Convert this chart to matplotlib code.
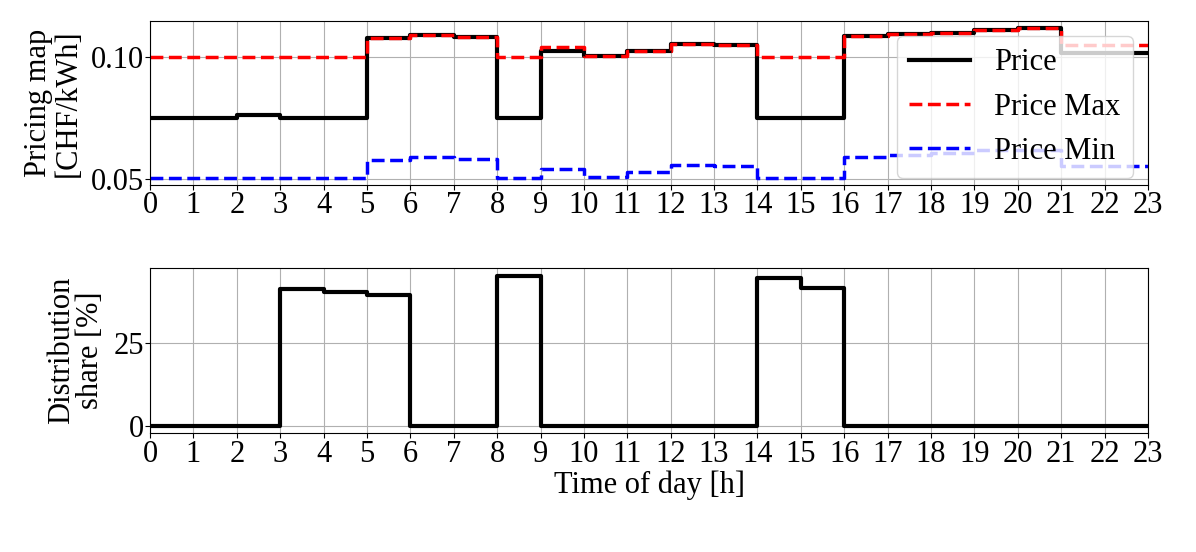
import numpy as np
import matplotlib
matplotlib.use('Agg')
import matplotlib.pyplot as plt

plt.rcParams['font.family'] = ['Liberation Serif', 'DejaVu Serif']
plt.rcParams['font.size'] = 22

# hours of the day
hours = list(range(24))

# pricing map [CHF/kWh], one value per hour (last one repeats for the step end)
price = [0.075, 0.075, 0.076, 0.075, 0.075, 0.1079, 0.109, 0.108, 0.075, 0.1025,
         0.1004, 0.1025, 0.1055, 0.105, 0.075, 0.075, 0.1086, 0.1093, 0.110, 0.111,
         0.1117, 0.1015, 0.1015, 0.1015]
price_max = [0.100, 0.100, 0.100, 0.100, 0.100, 0.1079, 0.109, 0.108, 0.100, 0.104,
             0.1005, 0.1025, 0.1055, 0.105, 0.100, 0.100, 0.1086, 0.1093, 0.110, 0.111,
             0.1117, 0.1048, 0.1048, 0.1048]
price_min = [0.0505, 0.0505, 0.0505, 0.0505, 0.0505, 0.0578, 0.0589, 0.0582, 0.0505, 0.054,
             0.0509, 0.0527, 0.0557, 0.0554, 0.0505, 0.0505, 0.0589, 0.0596, 0.0605, 0.0616,
             0.0619, 0.0551, 0.0551, 0.0551]

# distribution share [%]
share = [0, 0, 0, 41.0, 40.3, 39.3, 0, 0, 45.2, 0,
         0, 0, 0, 0, 44.6, 41.3, 0, 0, 0, 0,
         0, 0, 0, 0]


def main():
    fig = plt.figure(figsize=(11.96, 5.52), dpi=100)
    ax1 = fig.add_axes([0.1254, 0.6649, 0.8345, 0.2971])
    ax2 = fig.add_axes([0.1254, 0.2147, 0.8345, 0.2998])

    ax1.step(hours, price, where='post', color='k', lw=3, label='Price')
    ax1.step(hours, price_max, where='post', color='r', ls='--', lw=2.5, label='Price Max')
    ax1.step(hours, price_min, where='post', color='b', ls='--', lw=2.5, label='Price Min')
    ax1.set_yticks([0.05, 0.10])
    ax1.set_yticklabels(['0.05', '0.10'])
    ax1.set_ylabel('Pricing map\n[CHF/kWh]', linespacing=1.0, labelpad=6)
    ax1.legend(loc='upper right', framealpha=0.8, fontsize=22)

    ax2.step(hours, share, where='post', color='k', lw=3)
    ax2.set_yticks([0, 25])
    ax2.set_ylabel('Distribution\nshare [%]', linespacing=1.0, labelpad=6)
    ax2.set_xlabel('Time of day [h]', labelpad=1)

    for ax in (ax1, ax2):
        ax.set_xlim(0, 23)
        ax.set_xticks(hours)
        ax.grid(True, color='#b0b0b0', lw=0.8)
        ax.tick_params(labelsize=22, pad=1)

    fig.savefig('out.png', dpi=100)
    return


if __name__ == '__main__':
    main()
